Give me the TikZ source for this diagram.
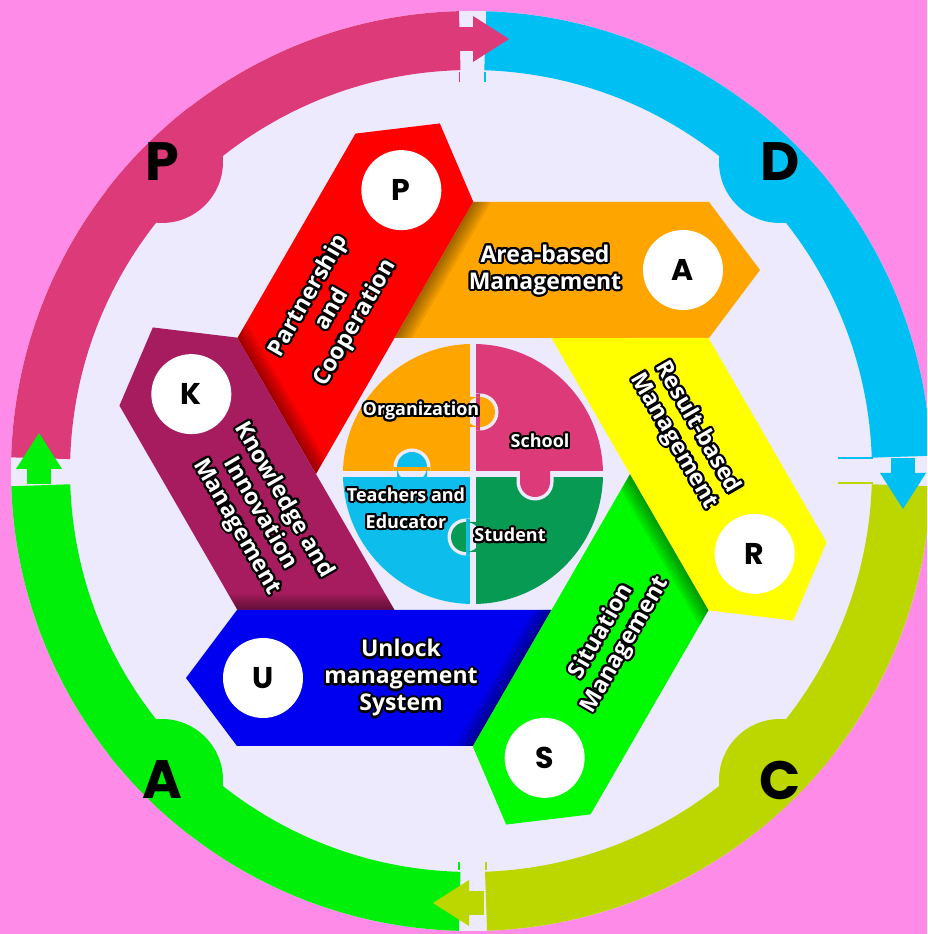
\documentclass[tikz,border=0pt]{standalone}
\usepackage{fontspec}
\setmainfont{Open Sans}
\newfontfamily\pop{Poppins}
\usetikzlibrary{calc}

\definecolor{bgpink}{RGB}{255,139,232}
\definecolor{lav}{RGB}{236,234,252}
\definecolor{ringP}{RGB}{221,58,122}
\definecolor{ringD}{RGB}{0,191,243}
\definecolor{ringC}{RGB}{188,214,0}
\definecolor{ringA}{RGB}{0,240,10}
\definecolor{bandP}{RGB}{255,0,0}
\definecolor{bandA}{RGB}{255,165,0}
\definecolor{bandR}{RGB}{255,255,0}
\definecolor{bandS}{RGB}{0,250,0}
\definecolor{bandU}{RGB}{0,0,240}
\definecolor{bandK}{RGB}{166,28,94}
\definecolor{pzO}{RGB}{255,165,0}
\definecolor{pzS}{RGB}{221,58,122}
\definecolor{pzT}{RGB}{13,190,236}
\definecolor{pzG}{RGB}{7,154,82}

\newcommand\bandfont{\bfseries\fontsize{23}{27}\selectfont}
\newcommand\pzfont{\bfseries\fontsize{18}{27}\selectfont}
\newcommand\ringfont{\pop\bfseries\fontsize{54}{54}\selectfont}
\newcommand\circfont{\pop\bfseries\fontsize{30}{30}\selectfont}

\newcommand\otext[4]{%
  \foreach \k in {0,22.5,...,337.5}{\node[#3,text=black,xshift={2.1*cos(\k)},yshift={2.1*sin(\k)}] at #2 {#4};}%
  \node[#3,text=white] (#1) at #2 {#4};}

\tikzset{
 letternode/.style={circle,fill=white,minimum size=80pt,inner sep=0pt,font=\circfont,text=black},
 bandtext/.style={align=center,font=\bandfont,inner sep=0pt},
 pztext/.style={align=center,font=\pzfont,inner sep=0pt},
 ringletter/.style={font=\ringfont,text=black,inner sep=0pt},
 artline/.style={line width=1.2pt},
}

\begin{document}
\begin{tikzpicture}[x=1pt,y=1pt]
\useasboundingbox (0,0) rectangle (927,934);
\clip (0,0) rectangle (927,934);
\fill[bgpink] (0,0) rectangle (927,934);

% ---------- outer PDCA ring ----------
\begin{scope}[shift={(471,463)}]
 \fill[lav] (0,0) circle[radius=460];
 \fill[ringP] (91.5:460) arc[start angle=91.5,end angle=178.3,radius=460] -- (178.3:401) arc[start angle=178.3,end angle=91.5,radius=401] -- cycle;
 \fill[ringD] (1.9:460) arc[start angle=1.9,end angle=88.1,radius=460] -- (88.1:401) arc[start angle=88.1,end angle=1.9,radius=401] -- cycle;
 \fill[ringC] (-88:460) arc[start angle=-88,end angle=-1.9,radius=460] -- (-1.9:401) arc[start angle=-1.9,end angle=-88,radius=401] -- cycle;
 \fill[ringA] (181.9:460) arc[start angle=181.9,end angle=268.5,radius=460] -- (268.5:401) arc[start angle=268.5,end angle=181.9,radius=401] -- cycle;
 \begin{scope}
  \clip (0,0) circle[radius=460];
  \fill[ringP] (135:437) circle[radius=61];
  \fill[ringD] (45:437) circle[radius=61];
  \fill[ringC] (-45:437) circle[radius=61];
  \fill[ringA] (-135:437) circle[radius=61];
 \end{scope}
 % small seam strokes
 \draw[ringP,artline] (-11.5,399) -- (-11.5,389);
 \draw[ringD,artline] (14,399) -- (14,389);
 \draw[ringD,artline] (402,13) -- (367,13);
 \draw[ringC,artline] (402,-12) -- (367,-12);
 \draw[ringA,artline] (-12,-399) -- (-12,-391);
 \draw[ringC,artline] (15,-399) -- (15,-391);
 % arrows
 \foreach \r/\c in {0/ringP,-90/ringD,-180/ringC,90/ringA}{
  \begin{scope}[rotate=\r]
   \fill[\c] (-13,420) rectangle (3,444);
   \fill[\c] (2,455) -- (38,432) -- (2,409) -- cycle;
  \end{scope}}
 \node[ringletter] (lP) at (135:437) {P};
 \node[ringletter] (lD) at (45:437) {D};
 \node[ringletter] (lC) at (-45:437) {C};
 \node[ringletter] (lA) at (-135:437) {A};
\end{scope}

% ---------- pinwheel bands ----------
\foreach \ang/\col/\shad in {0/bandA/1,60/bandP/1,120/bandK/1,180/bandU/1,240/bandS/1,300/bandR/0}{
 \begin{scope}[shift={(473,460)},rotate=\ang]
  \fill[\col] (0,272) -- (236,272) -- (287,204) -- (236,136) -- (-78.5,136) -- cycle;
  \ifnum\shad=1
   \foreach \s in {3,6,...,18}{\fill[black,opacity=0.07] (-78.5,136) -- (0,272) -- (\s,272) -- ({\s-78.5},136) -- cycle;}
  \fi
 \end{scope}}

\foreach \ang/\L/\tr/\txt in {0/A/0/{Area-based\\Management},60/P/60/{Partnership\\and\\Cooperation},120/K/-60/{Knowledge and\\Innovation\\Management},180/U/0/{Unlock\\management\\System},240/S/60/{Situation\\Management},300/R/-60/{Result-based\\Management}}{
 \begin{scope}[shift={(473,460)},rotate=\ang]
  \node[letternode] (c\L) at (210,204) {\L};
  \otext{t\L}{(72,204)}{bandtext,rotate=\tr}{\txt}
 \end{scope}}

% ---------- central puzzle ----------
\begin{scope}[shift={(473,460)}]
 \begin{scope}
  \clip (0,0) circle[radius=130];
  \fill[pzO] (-140,3) rectangle (-3,140);
  \fill[pzS] (3,3) rectangle (140,140);
  \fill[pzT] (-140,-3) rectangle (-3,-140);
  \fill[pzG] (3,-3) rectangle (140,-140);
 \end{scope}
 \begin{scope}
  \clip (0,0) rectangle (140,140);
  \fill[lav] (7,62) circle[radius=18.5] (0,43.5) rectangle (7,80.5);
 \end{scope}
 \begin{scope}
  \clip (0,0) rectangle (-140,140);
  \fill[lav] (-61,7) circle[radius=18.5] (-79.5,0) rectangle (-42.5,7);
 \end{scope}
 \begin{scope}
  \clip (0,0) rectangle (140,-140);
  \fill[lav] (62,-8) circle[radius=18.5] (43.5,0) rectangle (80.5,-8);
 \end{scope}
 \begin{scope}
  \clip (0,0) rectangle (-140,-140);
  \fill[lav] (-7,-63) circle[radius=18.5] (0,-44.5) rectangle (-7,-81.5);
 \end{scope}
 \fill[pzO] (7,62) circle[radius=15] (-5,47) rectangle (7,77);
 \fill[pzT] (-61,7) circle[radius=15] (-76,-5) rectangle (-46,7);
 \fill[pzS] (62,-8) circle[radius=15] (47,5) rectangle (77,-8);
 \fill[pzG] (-7,-63) circle[radius=15] (5,-48) rectangle (-7,-78);
 \otext{pOrg}{(-52,63)}{pztext}{Organization}
 \otext{pSch}{(67,33)}{pztext}{School}
 \otext{pTea}{(-67,-34)}{pztext}{Teachers and\\Educator}
 \otext{pStu}{(37,-61)}{pztext}{Student}
\end{scope}
\end{tikzpicture}
\end{document}
